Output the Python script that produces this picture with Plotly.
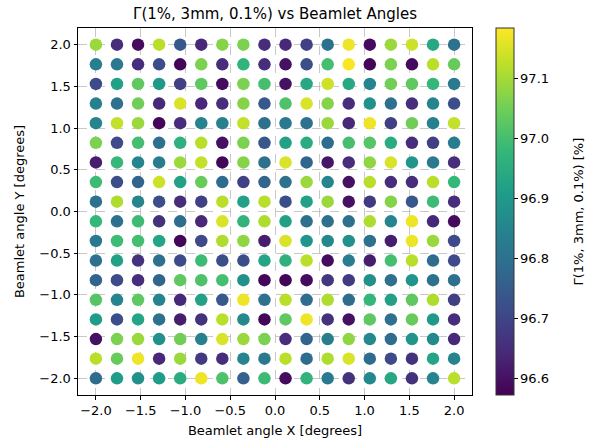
import plotly.graph_objects as go

x_angles = [-2.0, -1.7647, -1.5294, -1.2941, -1.0588, -0.8235, -0.5882, -0.3529, -0.1176,
            0.1176, 0.3529, 0.5882, 0.8235, 1.0588, 1.2941, 1.5294, 1.7647, 2.0]
y_angles = [2.0, 1.7647, 1.5294, 1.2941, 1.0588, 0.8235, 0.5882, 0.3529, 0.1176,
            -0.1176, -0.3529, -0.5882, -0.8235, -1.0588, -1.2941, -1.5294, -1.7647, -2.0]

# gamma pass rate [%], one list per row, top row (y = 2.0) first
gamma_rows = [
    [97.09, 96.65, 96.59, 97.12, 96.74, 96.64, 97.07, 97.06, 96.65, 96.64, 96.69, 96.80, 97.17, 96.59, 97.09, 97.14, 96.94, 96.80],
    [96.83, 96.82, 96.65, 96.72, 96.58, 97.06, 96.65, 96.97, 96.65, 96.60, 96.72, 97.00, 97.18, 96.58, 97.06, 96.59, 97.12, 97.04],
    [96.71, 96.92, 97.03, 96.90, 96.69, 97.03, 96.59, 97.06, 97.00, 96.60, 96.94, 97.14, 96.94, 96.85, 97.05, 97.03, 96.98, 96.82],
    [96.84, 96.80, 97.05, 96.64, 97.15, 96.64, 96.65, 97.07, 96.74, 97.01, 97.15, 97.07, 96.65, 96.88, 96.80, 96.65, 96.85, 96.72],
    [96.85, 97.13, 97.09, 96.58, 96.65, 96.85, 96.84, 97.13, 96.80, 96.82, 96.80, 97.09, 96.64, 97.17, 96.69, 97.05, 96.84, 97.13],
    [97.06, 96.71, 97.00, 96.80, 96.96, 97.12, 96.60, 97.06, 96.74, 96.92, 96.95, 96.79, 97.00, 97.02, 96.95, 96.65, 96.69, 96.83],
    [96.62, 96.98, 96.85, 96.83, 97.09, 97.13, 96.58, 97.07, 96.80, 97.15, 96.77, 96.61, 96.65, 97.08, 97.15, 96.89, 96.82, 96.65],
    [96.99, 96.72, 96.77, 97.14, 96.92, 97.04, 96.79, 96.69, 96.77, 96.80, 97.09, 96.85, 96.60, 97.12, 96.65, 96.65, 97.12, 96.98],
    [96.80, 97.11, 96.85, 96.72, 96.65, 96.69, 97.12, 96.92, 97.12, 96.72, 96.92, 97.09, 96.60, 96.68, 97.07, 96.74, 96.99, 96.65],
    [96.98, 96.80, 96.99, 96.66, 96.79, 96.64, 97.15, 96.97, 97.11, 96.92, 96.80, 96.80, 96.80, 97.11, 96.85, 97.17, 96.64, 96.59],
    [96.82, 96.99, 97.00, 96.93, 96.58, 96.71, 97.11, 97.08, 96.62, 97.15, 96.89, 96.86, 96.88, 96.80, 96.62, 97.17, 97.09, 96.71],
    [96.80, 96.92, 96.66, 96.80, 96.71, 96.99, 96.72, 96.72, 96.93, 96.96, 97.12, 96.59, 96.83, 96.62, 97.00, 97.12, 96.79, 96.71],
    [96.77, 96.71, 96.65, 96.77, 97.03, 97.01, 97.00, 96.88, 96.58, 96.58, 96.59, 96.67, 96.68, 96.88, 96.80, 96.89, 96.80, 96.80],
    [97.02, 96.85, 97.03, 96.85, 96.64, 96.92, 96.74, 97.17, 96.80, 97.12, 96.79, 97.11, 96.79, 96.98, 96.92, 97.03, 97.11, 96.69],
    [96.91, 96.72, 96.93, 96.80, 96.62, 96.66, 97.12, 96.86, 96.58, 97.03, 97.17, 96.66, 96.60, 97.03, 96.80, 97.04, 96.90, 96.65],
    [96.60, 97.06, 97.09, 96.88, 97.05, 96.84, 97.15, 97.09, 97.06, 96.65, 96.77, 96.83, 97.08, 96.86, 96.79, 96.89, 96.86, 96.64],
    [97.12, 97.04, 97.17, 96.64, 97.09, 96.68, 96.65, 96.85, 96.82, 97.12, 96.79, 97.11, 97.15, 96.79, 96.71, 96.66, 96.93, 96.85],
    [96.79, 96.91, 96.88, 96.91, 96.95, 97.17, 97.01, 96.76, 96.99, 96.59, 96.97, 96.82, 96.66, 96.86, 96.94, 96.66, 96.85, 97.12],
]

tick_vals = [-2.0, -1.5, -1.0, -0.5, 0.0, 0.5, 1.0, 1.5, 2.0]
tick_text = ["\u22122.0", "\u22121.5", "\u22121.0", "\u22120.5", "0.0", "0.5", "1.0", "1.5", "2.0"]
cbar_vals = [96.6, 96.7, 96.8, 96.9, 97.0, 97.1]
cbar_text = ["96.6", "96.7", "96.8", "96.9", "97.0", "97.1"]

xs, ys, zs = [], [], []
for yi, row in zip(y_angles, gamma_rows):
    for xi, v in zip(x_angles, row):
        xs.append(xi)
        ys.append(yi)
        zs.append(v)

font = "DejaVu Sans"
fig = go.Figure(go.Scatter(
    x=xs, y=ys, mode="markers",
    marker=dict(
        size=12.5, color=zs, colorscale="Viridis", cmin=96.572, cmax=97.184,
        line=dict(width=0),
        colorbar=dict(
            thickness=18, len=1.0, lenmode="fraction", x=1.061, xanchor="left",
            xpad=0, ypad=0, y=0.5, yanchor="middle",
            outlinewidth=1, outlinecolor="#333",
            tickvals=cbar_vals, ticktext=cbar_text, ticks="outside", ticklen=3.5,
            tickcolor="#000", tickfont=dict(family=font, size=13, color="#000"),
        ),
    ),
    hoverinfo="skip", showlegend=False,
))

axis_common = dict(
    showline=True, linecolor="#000", linewidth=1, mirror=True,
    ticks="outside", ticklen=3.5, tickcolor="#000",
    showgrid=True, gridcolor="rgba(176,176,176,0.7)", griddash="dash", gridwidth=0.8,
    zeroline=False, tickfont=dict(family=font, size=13, color="#000"),
    tickvals=tick_vals, ticktext=tick_text, automargin=False,
)

fig.update_layout(
    width=595, height=441,
    margin=dict(l=78, r=123, t=28, b=46, autoexpand=False),
    paper_bgcolor="white", plot_bgcolor="white",
    title=dict(text="\u0393(1%, 3mm, 0.1%) vs Beamlet Angles", xref="paper", x=0.5, xanchor="center",
               yref="container", y=1 - 14 / 441, yanchor="middle",
               font=dict(family=font, size=15, color="#000")),
    xaxis=dict(range=[-2.2, 2.2], title=dict(text="Beamlet angle X [degrees]", standoff=8,
               font=dict(family=font, size=13, color="#000")), **axis_common),
    yaxis=dict(range=[-2.2, 2.2], title=dict(text="Beamlet angle Y [degrees]", standoff=11,
               font=dict(family=font, size=13, color="#000")), **axis_common),
    annotations=[dict(
        text="\u0393(1%, 3mm, 0.1%) [%]", xref="paper", yref="paper",
        x=(578 - 78) / 394, y=0.5, xanchor="center", yanchor="middle",
        textangle=-90, showarrow=False, font=dict(family=font, size=13, color="#000"),
    )],
)

fig.write_html("out.html", config={"displayModeBar": False},
               post_script="document.body.style.margin='0';")
